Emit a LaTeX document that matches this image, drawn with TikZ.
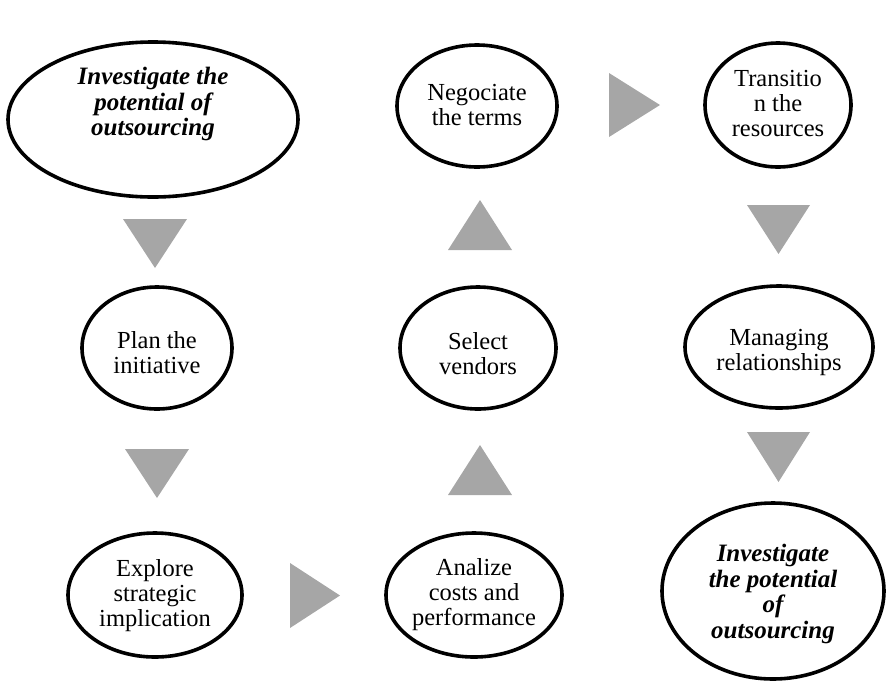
\documentclass[tikz,border=0pt]{standalone}
\usepackage{fontspec}
\setmainfont{Liberation Serif}
\usetikzlibrary{shapes.geometric}
\definecolor{trigray}{HTML}{A6A6A6}
\tikzset{
  oval/.style={draw=black, line width=3.6pt, ellipse, fill=white, inner sep=0pt},
  lbl/.style={align=center, inner sep=0pt, font=\fontsize{24.5}{25}\selectfont},
  blbl/.style={align=center, inner sep=0pt, font=\fontsize{25}{25.5}\selectfont\bfseries\itshape},
  tri/.style={fill=trigray, draw=none}
}
\begin{document}
\begin{tikzpicture}[x=1pt,y=-1pt]
\useasboundingbox (0,0) rectangle (886,681);
% ellipses
\node[oval, minimum width=290pt, minimum height=155pt] (e1) at (153,119.5) {};
\node[oval, minimum width=160pt, minimum height=122pt] (e2) at (477,106) {};
\node[oval, minimum width=146pt, minimum height=124pt] (e3) at (778,105) {};
\node[oval, minimum width=150pt, minimum height=122pt] (e4) at (157,348) {};
\node[oval, minimum width=156pt, minimum height=122pt] (e5) at (478,348) {};
\node[oval, minimum width=188pt, minimum height=122pt] (e6) at (779,347) {};
\node[oval, minimum width=174pt, minimum height=124pt] (e7) at (155,595) {};
\node[oval, minimum width=176pt, minimum height=124pt] (e8) at (474,595) {};
\node[oval, minimum width=222pt, minimum height=176pt] (e9) at (773,591) {};
% texts
\node[blbl] (t1) at (153,104) {Investigate the\\potential of\\outsourcing};
\node[lbl] (t2) at (477,105) {Negociate\\the terms};
\node[lbl] (t3) at (778,104) {Transitio\\n the\\resources};
\node[lbl] (t4) at (157,353) {Plan the\\initiative};
\node[lbl] (t5) at (478,354) {Select\\vendors};
\node[lbl] (t6) at (779,352) {Managing\\relationships};
\node[lbl] (t7) at (155,596) {Explore\\strategic\\implication};
\node[lbl] (t8) at (474,595) {Analize\\costs and\\performance};
\node[blbl] (t9) at (773,594) {Investigate\\the potential\\of\\outsourcing};
% gray block arrows
\fill[tri] (123,219) -- (187,219) -- (155,268) -- cycle;
\fill[tri] (125,449) -- (189,449) -- (157,498) -- cycle;
\fill[tri] (448,250) -- (512,250) -- (480,200) -- cycle;
\fill[tri] (448,495) -- (512,495) -- (480,445) -- cycle;
\fill[tri] (609,73) -- (609,137) -- (660,105) -- cycle;
\fill[tri] (290,563) -- (290,628) -- (340,595.5) -- cycle;
\fill[tri] (747,205) -- (810,205) -- (778.5,254) -- cycle;
\fill[tri] (747,432) -- (810,432) -- (778.5,482) -- cycle;
\end{tikzpicture}
\end{document}
